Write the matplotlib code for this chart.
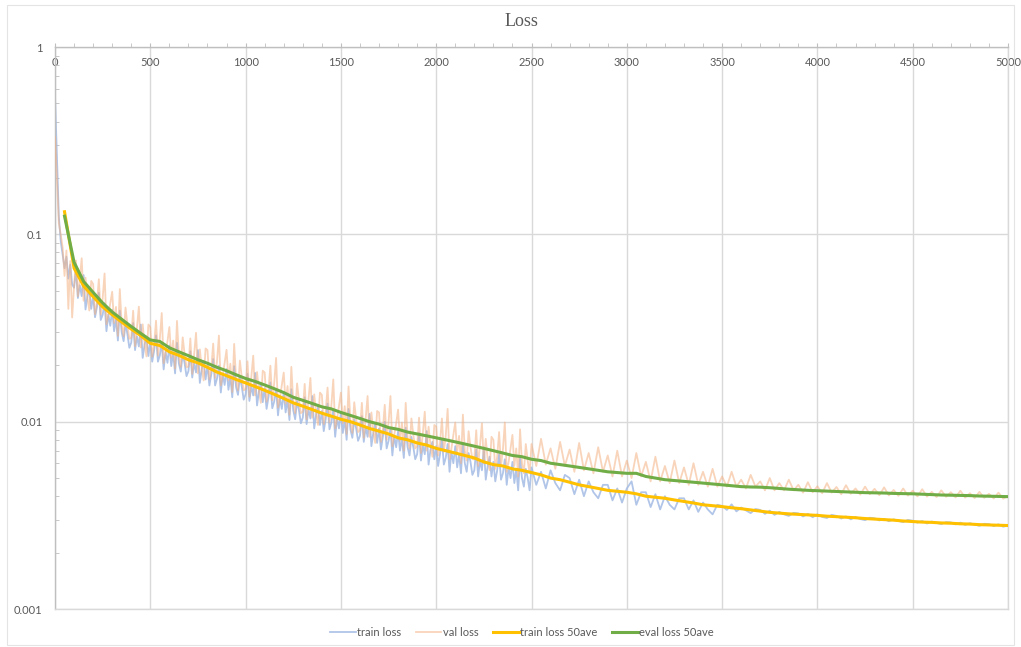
import numpy as np
import matplotlib
matplotlib.use("Agg")
import matplotlib.pyplot as plt
from matplotlib.ticker import FixedLocator, LogLocator, NullFormatter, MultipleLocator
import matplotlib.patches as patches

# raw losses: every 10 steps up to 2490, then every 25 steps up to 5000
steps_raw = list(range(0, 2500, 10)) + list(range(2500, 5001, 25))
train_loss = [
    # 0 .. 2490, step 10
    0.55, 0.26, 0.125, 0.092, 0.078, 0.066, 0.076, 0.058, 0.069, 0.054,
    0.0519, 0.0650, 0.0457, 0.0535, 0.0468, 0.0606, 0.0397, 0.0466, 0.0508, 0.0400,
    0.0468, 0.0361, 0.0409, 0.0487, 0.0349, 0.0372, 0.0429, 0.0304, 0.0374, 0.0325,
    0.0396, 0.0304, 0.0353, 0.0271, 0.0392, 0.0300, 0.0269, 0.0333, 0.0293, 0.0248,
    0.0264, 0.0336, 0.0241, 0.0285, 0.0252, 0.0330, 0.0219, 0.0258, 0.0283, 0.0224,
    0.0268, 0.0209, 0.0239, 0.0289, 0.0209, 0.0226, 0.0264, 0.0190, 0.0236, 0.0206,
    0.0255, 0.0198, 0.0233, 0.0181, 0.0264, 0.0204, 0.0185, 0.0231, 0.0205, 0.0175,
    0.0186, 0.0238, 0.0172, 0.0205, 0.0183, 0.0241, 0.0161, 0.0191, 0.0211, 0.0168,
    0.0200, 0.0156, 0.0179, 0.0216, 0.0156, 0.0170, 0.0199, 0.0143, 0.0179, 0.0157,
    0.0191, 0.0148, 0.0174, 0.0135, 0.0198, 0.0153, 0.0139, 0.0173, 0.0154, 0.0131,
    0.0140, 0.0180, 0.0129, 0.0155, 0.0138, 0.0182, 0.0122, 0.0145, 0.0160, 0.0127,
    0.0151, 0.0117, 0.0135, 0.0162, 0.0118, 0.0128, 0.0150, 0.0108, 0.0134, 0.0117,
    0.0144, 0.0112, 0.0131, 0.0102, 0.0149, 0.0115, 0.0103, 0.0129, 0.0115, 0.0098,
    0.0105, 0.0135, 0.0097, 0.0116, 0.0104, 0.0137, 0.0092, 0.0109, 0.0120, 0.0096,
    0.0114, 0.0089, 0.0103, 0.0125, 0.0091, 0.0099, 0.0116, 0.0083, 0.0105, 0.0092,
    0.0112, 0.0087, 0.0103, 0.0080, 0.0117, 0.0091, 0.0082, 0.0103, 0.0092, 0.0079,
    0.0084, 0.0107, 0.0078, 0.0093, 0.0083, 0.0110, 0.0074, 0.0087, 0.0097, 0.0077,
    0.0092, 0.0071, 0.0083, 0.0100, 0.0072, 0.0079, 0.0092, 0.0066, 0.0084, 0.0073,
    0.0089, 0.0070, 0.0082, 0.0064, 0.0093, 0.0073, 0.0066, 0.0083, 0.0073, 0.0063,
    0.0067, 0.0087, 0.0062, 0.0075, 0.0067, 0.0089, 0.0059, 0.0071, 0.0078, 0.0063,
    0.0074, 0.0058, 0.0067, 0.0081, 0.0059, 0.0064, 0.0076, 0.0054, 0.0069, 0.0060,
    0.0074, 0.0057, 0.0067, 0.0053, 0.0077, 0.0060, 0.0054, 0.0068, 0.0061, 0.0052,
    0.0055, 0.0071, 0.0051, 0.0062, 0.0055, 0.0073, 0.0049, 0.0058, 0.0065, 0.0051,
    0.0061, 0.0048, 0.0055, 0.0067, 0.0049, 0.0053, 0.0063, 0.0046, 0.0057, 0.0050,
    0.0061, 0.0047, 0.0056, 0.0043, 0.0064, 0.0050, 0.0045, 0.0056, 0.0050, 0.0043,
    # 2500 .. 5000, step 25
    0.0057, 0.0046, 0.0054, 0.0044, 0.0055, 0.0047, 0.0043, 0.0052,
    0.0050, 0.0041, 0.0049, 0.0040, 0.0048, 0.0042, 0.0039, 0.0046,
    0.0046, 0.0038, 0.0044, 0.0037, 0.0044, 0.0048, 0.0036, 0.0042,
    0.0042, 0.0035, 0.0041, 0.0034, 0.0040, 0.0036, 0.0034, 0.0039,
    0.0039, 0.0034, 0.0038, 0.0033, 0.0037, 0.0034, 0.0032, 0.0036,
    0.00355, 0.00338, 0.00362, 0.00332, 0.00348, 0.00336, 0.00325, 0.00342,
    0.00338, 0.00322, 0.00335, 0.00318, 0.00330, 0.00320, 0.00314, 0.00326,
    0.00324, 0.00312, 0.00322, 0.00309, 0.00320, 0.00310, 0.00306, 0.00318,
    0.00314, 0.00304, 0.00312, 0.00301, 0.00310, 0.00302, 0.00298, 0.00307,
    0.00305, 0.00297, 0.00303, 0.00294, 0.00301, 0.00295, 0.00291, 0.00299,
    0.00296, 0.00289, 0.00295, 0.00286, 0.00293, 0.00288, 0.00284, 0.00291,
    0.00290, 0.00283, 0.00289, 0.00281, 0.00287, 0.00282, 0.00278, 0.00285,
    0.00284, 0.00277, 0.00283, 0.00275, 0.00279,
]
val_loss = [
    # 0 .. 2490, step 10
    0.33, 0.20, 0.115, 0.100, 0.085, 0.060, 0.082, 0.040, 0.072, 0.036,
    0.0528, 0.0725, 0.0467, 0.0578, 0.0745, 0.0442, 0.0587, 0.0460, 0.0392, 0.0564,
    0.0543, 0.0375, 0.0431, 0.0576, 0.0372, 0.0454, 0.0618, 0.0331, 0.0372, 0.0427,
    0.0494, 0.0336, 0.0410, 0.0287, 0.0510, 0.0329, 0.0286, 0.0407, 0.0328, 0.0277,
    0.0280, 0.0391, 0.0253, 0.0318, 0.0411, 0.0249, 0.0331, 0.0260, 0.0223, 0.0330,
    0.0320, 0.0222, 0.0257, 0.0346, 0.0225, 0.0276, 0.0380, 0.0205, 0.0232, 0.0268,
    0.0320, 0.0220, 0.0271, 0.0192, 0.0345, 0.0223, 0.0196, 0.0282, 0.0229, 0.0195,
    0.0197, 0.0278, 0.0180, 0.0229, 0.0298, 0.0181, 0.0243, 0.0192, 0.0166, 0.0246,
    0.0241, 0.0168, 0.0194, 0.0261, 0.0171, 0.0210, 0.0288, 0.0156, 0.0177, 0.0206,
    0.0242, 0.0166, 0.0204, 0.0144, 0.0260, 0.0168, 0.0147, 0.0212, 0.0172, 0.0147,
    0.0149, 0.0210, 0.0136, 0.0173, 0.0225, 0.0138, 0.0184, 0.0146, 0.0126, 0.0187,
    0.0183, 0.0128, 0.0147, 0.0199, 0.0130, 0.0160, 0.0219, 0.0119, 0.0134, 0.0156,
    0.0183, 0.0125, 0.0155, 0.0109, 0.0196, 0.0127, 0.0111, 0.0160, 0.0130, 0.0111,
    0.0113, 0.0159, 0.0103, 0.0131, 0.0171, 0.0105, 0.0140, 0.0111, 0.0096, 0.0143,
    0.0139, 0.0097, 0.0113, 0.0152, 0.0099, 0.0122, 0.0168, 0.0092, 0.0104, 0.0121,
    0.0143, 0.0098, 0.0121, 0.0086, 0.0154, 0.0100, 0.0087, 0.0127, 0.0103, 0.0088,
    0.0090, 0.0126, 0.0082, 0.0104, 0.0137, 0.0083, 0.0112, 0.0089, 0.0077, 0.0114,
    0.0112, 0.0078, 0.0090, 0.0123, 0.0080, 0.0099, 0.0137, 0.0074, 0.0085, 0.0098,
    0.0116, 0.0079, 0.0099, 0.0070, 0.0126, 0.0082, 0.0072, 0.0104, 0.0085, 0.0072,
    0.0074, 0.0105, 0.0068, 0.0087, 0.0113, 0.0070, 0.0094, 0.0075, 0.0065, 0.0096,
    0.0094, 0.0066, 0.0077, 0.0104, 0.0069, 0.0084, 0.0117, 0.0063, 0.0072, 0.0085,
    0.0099, 0.0068, 0.0084, 0.0060, 0.0109, 0.0070, 0.0062, 0.0089, 0.0073, 0.0063,
    0.0063, 0.0090, 0.0058, 0.0075, 0.0098, 0.0060, 0.0081, 0.0063, 0.0055, 0.0083,
    0.0080, 0.0056, 0.0065, 0.0088, 0.0058, 0.0071, 0.0099, 0.0054, 0.0061, 0.0072,
    0.0085, 0.0058, 0.0072, 0.0051, 0.0091, 0.0060, 0.0053, 0.0076, 0.0062, 0.0053,
    # 2500 .. 5000, step 25
    0.0076, 0.0058, 0.0081, 0.0059, 0.0072, 0.0056, 0.0078, 0.0058,
    0.0071, 0.0054, 0.0077, 0.0055, 0.0068, 0.0053, 0.0073, 0.0054,
    0.0066, 0.0051, 0.0070, 0.0051, 0.0062, 0.0050, 0.0068, 0.0051,
    0.0061, 0.0048, 0.0065, 0.0048, 0.0058, 0.0047, 0.0062, 0.0047,
    0.0057, 0.0046, 0.0060, 0.0046, 0.0054, 0.0045, 0.0056, 0.0045,
    0.0051, 0.0045, 0.0054, 0.0045, 0.0049, 0.0044, 0.0052, 0.0045,
    0.0048, 0.0043, 0.0050, 0.0043, 0.0047, 0.0043, 0.0049, 0.0043,
    0.00460, 0.00418, 0.00475, 0.00420, 0.00452, 0.00415, 0.00470, 0.00418,
    0.00448, 0.00410, 0.00458, 0.00412, 0.00440, 0.00408, 0.00450, 0.00410,
    0.00438, 0.00405, 0.00446, 0.00404, 0.00432, 0.00402, 0.00440, 0.00403,
    0.00428, 0.00399, 0.00436, 0.00398, 0.00422, 0.00396, 0.00430, 0.00397,
    0.00420, 0.00394, 0.00428, 0.00393, 0.00415, 0.00391, 0.00422, 0.00392,
    0.00412, 0.00389, 0.00418, 0.00388, 0.00400,
]

# 50-step moving averages, one value every 50 steps (50 .. 5000)
steps_ave = list(range(50, 5001, 50))
train_ave = [
    0.132, 0.066, 0.053, 0.0465, 0.041, 0.0372, 0.0340, 0.0312, 0.0288, 0.0262,
    0.0255, 0.0236, 0.0226, 0.0214, 0.0206, 0.0195, 0.0184, 0.0176, 0.0168, 0.0161,
    0.0154, 0.0147, 0.0140, 0.0133, 0.0126, 0.0121, 0.0116, 0.0111, 0.0107, 0.0103,
    0.0100, 0.0096, 0.0092, 0.0089, 0.0086, 0.0082, 0.0080, 0.0077, 0.0075, 0.0072,
    0.0070, 0.0068, 0.0066, 0.0064, 0.0061, 0.0059, 0.0058, 0.0056, 0.0055, 0.00535,
    0.0052, 0.0050, 0.0049, 0.00475, 0.0046, 0.0045, 0.0044, 0.0043, 0.00425, 0.0042,
    0.00412, 0.0040, 0.00395, 0.0039, 0.00382, 0.00375, 0.00368, 0.0036, 0.00356, 0.00352,
    0.00347, 0.00343, 0.00338, 0.00333, 0.00328, 0.00325, 0.00322, 0.00320, 0.00318, 0.00316,
    0.00313, 0.00311, 0.00309, 0.00307, 0.00304, 0.00302, 0.00300, 0.00298, 0.00295, 0.00293,
    0.00291, 0.00290, 0.00288, 0.00287, 0.00285, 0.00284, 0.00282, 0.00281, 0.00280, 0.00279,
]
eval_ave = [
    0.125, 0.071, 0.056, 0.049, 0.043, 0.0385, 0.0352, 0.0322, 0.0296, 0.0273,
    0.0268, 0.0248, 0.0236, 0.0225, 0.0214, 0.0205, 0.0195, 0.0187, 0.0178, 0.0170,
    0.0164, 0.0157, 0.0150, 0.0143, 0.0135, 0.0130, 0.0125, 0.0120, 0.0117, 0.0112,
    0.0108, 0.0104, 0.0100, 0.0097, 0.0093, 0.0091, 0.0088, 0.0086, 0.0084, 0.0082,
    0.0080, 0.0078, 0.0076, 0.0074, 0.0072, 0.0070, 0.0068, 0.0066, 0.0065, 0.0063,
    0.0062, 0.0060, 0.0059, 0.0058, 0.0057, 0.0056, 0.0055, 0.0054, 0.00535, 0.0053,
    0.0053, 0.0051, 0.0050, 0.0049, 0.00485, 0.0048, 0.00475, 0.0047, 0.00465, 0.0046,
    0.00455, 0.0045, 0.00448, 0.00447, 0.00444, 0.00440, 0.00436, 0.00433, 0.00430, 0.00428,
    0.00426, 0.00424, 0.00422, 0.00420, 0.00418, 0.00417, 0.00416, 0.00414, 0.00413, 0.00412,
    0.00410, 0.00408, 0.00406, 0.00405, 0.00404, 0.00403, 0.00401, 0.00400, 0.00399, 0.00398,
]

y_ticks = [0.001, 0.01, 0.1, 1]
y_labels = ["0.001", "0.01", "0.1", "1"]

grey_txt = "#595959"
grid_c = "#d9d9d9"
plt.rcParams["font.family"] = ["Lato", "DejaVu Sans"]

fig = plt.figure(figsize=(10.21, 6.47), dpi=100)
ax = fig.add_axes([55 / 1021, 1 - 609 / 647, 953 / 1021, 562 / 647])

ax.plot(steps_raw, train_loss, color="#a3bbe4", lw=1.3, alpha=0.85, label="train loss", zorder=2)
ax.plot(steps_raw, val_loss, color="#f4b183", lw=1.3, alpha=0.55, label="val loss", zorder=3)
ax.plot(steps_ave, train_ave, color="#ffc000", lw=2.2, label="train loss 50ave", zorder=4)
ax.plot(steps_ave, eval_ave, color="#70ad47", lw=2.2, label="eval loss 50ave", zorder=5)

ax.set_yscale("log")
ax.set_ylim(0.001, 1)
ax.set_xlim(0, 5000)

ax.yaxis.set_major_locator(FixedLocator(y_ticks))
ax.set_yticklabels(y_labels)
ax.yaxis.set_minor_locator(LogLocator(base=10, subs=np.arange(2, 10)))
ax.yaxis.set_minor_formatter(NullFormatter())
ax.tick_params(axis="y", which="major", length=0, pad=9, labelsize=8, labelcolor=grey_txt)
ax.tick_params(axis="y", which="minor", direction="in", length=3, color="#bfbfbf")

ax.xaxis.set_major_locator(MultipleLocator(500))
ax.xaxis.set_minor_locator(MultipleLocator(100))
ax.tick_params(axis="x", which="both", top=True, bottom=False, labeltop=True, labelbottom=False,
               direction="out", color="#bfbfbf")
ax.tick_params(axis="x", which="major", length=3, pad=-18, labelsize=8, labelcolor=grey_txt)
ax.tick_params(axis="x", which="minor", length=3)

ax.grid(True, which="major", color=grid_c, lw=1)
ax.set_axisbelow(True)
for s in ax.spines.values():
    s.set_color(grid_c)
    s.set_linewidth(1)
ax.spines["left"].set_color("#bfbfbf")
ax.spines["top"].set_color("#bfbfbf")

fig.text(521 / 1021, 1 - 22 / 647, "Loss", ha="center", va="center", fontsize=13,
         color=grey_txt, family="Liberation Serif")

leg = fig.legend(loc="center", bbox_to_anchor=(522 / 1021, 1 - 632 / 647), ncol=4, frameon=False,
                 fontsize=8, handlelength=2.3, handletextpad=0.15, columnspacing=1.3)
for t in leg.get_texts():
    t.set_color(grey_txt)

fig.patches.append(patches.Rectangle((7 / 1021, 2 / 647), 1007 / 1021, 640 / 647,
                                     transform=fig.transFigure, fill=False,
                                     edgecolor="#e4e4e4", lw=0.8))

fig.savefig("out.png", dpi=100)
